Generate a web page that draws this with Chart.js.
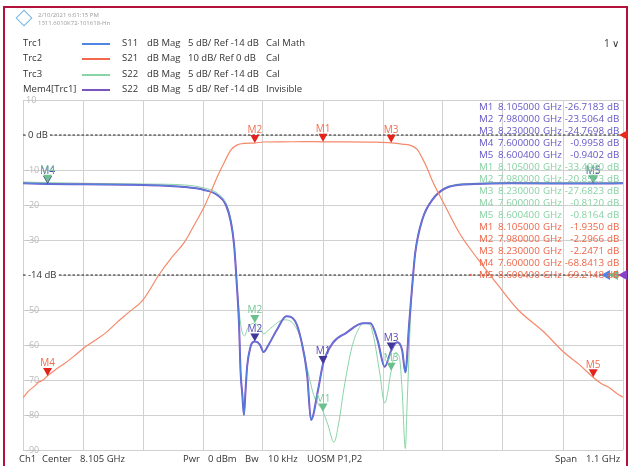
<!DOCTYPE html>
<html lang="en">
<head>
  <meta charset="UTF-8">
  <title>Filter sweep - Ch1</title>
  <script src="https://cdn.jsdelivr.net/npm/chart.js"></script>
  <style>
    body {
      margin: 0;
      width: 630px;
      height: 466px;
      overflow: hidden;
      position: relative;
      background: #fff;
      font-family: "Open Sans", Arial, sans-serif;
      color: #333;
    }
    .frame {
      position: absolute;
      left: 3px;
      top: 6px;
      width: 621px;
      height: 480px;
      border: 2px solid #b3123d;
      border-bottom: none;
    }
    #vna { position: absolute; left: 0; top: 0; }
    .abs { position: absolute; white-space: nowrap; line-height: 1; }
    .logo {
      position: absolute;
      left: 18px;
      top: 12px;
      width: 10px;
      height: 10px;
      border: 1.5px solid #72b4e2;
      transform: rotate(45deg);
    }
    .stamp { font-size: 6px; color: #9a9a9a; }
    .leg { font-size: 9.5px; color: #333; }
    .swatch { position: absolute; height: 2px; width: 28px; left: 82px; }
    .foot { font-size: 9.5px; color: #333; top: 454px; }
    .mk { font-size: 9.8px; }
  </style>
</head>
<body>
  <div class="frame"></div>
  <canvas id="vna" width="630" height="466"></canvas>

  <!-- header -->
  <div class="logo"></div>
  <div class="abs stamp" style="left:38px;top:12px">2/10/2021 6:01:15 PM</div>
  <div class="abs stamp" style="left:38px;top:20px">1311.6010K72-101618-Hn</div>
  <div class="abs leg" style="left:604px;top:38px;font-size:10px">1 &#8744;</div>

  <!-- trace list -->
  <div id="legend"></div>

  <!-- marker readout -->
  <div id="readout"></div>

  <!-- channel line -->
  <div class="abs foot" style="left:19px">Ch1</div>
  <div class="abs foot" style="left:42px">Center</div>
  <div class="abs foot" style="left:80px">8.105 GHz</div>
  <div class="abs foot" style="left:183px">Pwr</div>
  <div class="abs foot" style="left:208px">0 dBm</div>
  <div class="abs foot" style="left:245px">Bw</div>
  <div class="abs foot" style="left:268px">10 kHz</div>
  <div class="abs foot" style="left:307px">UOSM P1,P2</div>
  <div class="abs foot" style="left:555px">Span</div>
  <div class="abs foot" style="left:586px">1.1 GHz</div>

  <script>
    // sweep: 8.105 GHz center, 1.1 GHz span
    const freqMin = 7.555;
    const freqMax = 8.655;
    const freqStep = 0.11;

    // Trc2 (S21), 10 dB/div, ref 0 dB
    const trc2Freq = [7.555, 7.565, 7.575, 7.584, 7.592, 7.600, 7.615, 7.633, 7.650, 7.666, 7.686, 7.706, 7.727, 7.747, 7.775, 7.804, 7.827, 7.851, 7.869, 7.887, 7.900, 7.911, 7.925, 7.936, 7.947, 7.960, 7.980, 7.996, 8.030, 8.070, 8.105, 8.150, 8.200, 8.230, 8.250, 8.268, 8.278, 8.287, 8.296, 8.305, 8.328, 8.355, 8.390, 8.423, 8.463, 8.510, 8.546, 8.575, 8.600, 8.615, 8.630, 8.645, 8.655];
    const trc2Db = [-75.1, -73.2, -71.9, -70.6, -70.0, -68.8, -67.0, -65.1, -63.0, -60.9, -58.8, -56.6, -53.6, -50.9, -47.1, -40.0, -35.1, -30.6, -25.7, -20.6, -16.0, -12.0, -7.5, -4.3, -2.9, -2.4, -2.3, -2.0, -1.95, -1.9, -1.94, -1.95, -2.05, -2.25, -2.6, -3.1, -4.2, -6.6, -9.5, -12.9, -20.0, -28.0, -35.7, -42.3, -50.0, -56.3, -62.0, -65.6, -69.2, -71.0, -72.2, -74.0, -74.9];

    // Trc1 (S11), 5 dB/div, ref -14 dB  (Mem4 is a stored copy of it)
    const trc1Freq = [7.555, 7.600, 7.666, 7.776, 7.851, 7.887, 7.911, 7.927, 7.936, 7.942, 7.947, 7.951, 7.954, 7.957, 7.960, 7.963, 7.966, 7.972, 7.976, 7.980, 7.989, 7.996, 8.005, 8.020, 8.038, 8.054, 8.065, 8.076, 8.083, 8.096, 8.105, 8.123, 8.147, 8.178, 8.192, 8.205, 8.218, 8.230, 8.241, 8.250, 8.256, 8.263, 8.268, 8.274, 8.287, 8.305, 8.336, 8.383, 8.450, 8.600, 8.655];
    const trc1Db = [-0.9, -1.0, -1.05, -1.14, -1.43, -1.86, -2.57, -4.0, -6.4, -9.7, -15.4, -20.9, -28.0, -31.0, -34.0, -30.5, -27.0, -24.3, -23.6, -23.5, -23.9, -25.0, -24.0, -21.9, -19.9, -20.6, -23.3, -28.3, -34.7, -30.4, -26.7, -23.7, -22.3, -20.9, -20.9, -23.3, -27.1, -24.8, -23.6, -24.7, -27.9, -20.9, -16.1, -10.9, -6.1, -3.3, -1.4, -1.0, -0.9, -0.94, -0.9];

    // Trc3 (S22), 5 dB/div, ref -14 dB
    const trc3Freq = [7.555, 7.600, 7.776, 7.851, 7.887, 7.911, 7.927, 7.936, 7.942, 7.947, 7.952, 7.956, 7.961, 7.967, 7.980, 7.989, 7.996, 8.009, 8.033, 8.051, 8.065, 8.078, 8.089, 8.105, 8.114, 8.125, 8.134, 8.143, 8.158, 8.169, 8.180, 8.191, 8.198, 8.209, 8.218, 8.230, 8.237, 8.245, 8.250, 8.256, 8.259, 8.265, 8.268, 8.274, 8.287, 8.305, 8.336, 8.383, 8.450, 8.600, 8.655];
    const trc3Db = [-0.71, -0.81, -1.0, -1.14, -1.57, -2.3, -3.7, -6.0, -9.4, -15.1, -19.7, -21.9, -22.7, -21.6, -20.85, -21.6, -22.4, -21.6, -20.4, -21.0, -23.3, -28.0, -31.4, -33.5, -35.4, -37.9, -35.1, -30.4, -24.3, -21.9, -20.9, -21.1, -22.9, -28.0, -32.3, -27.7, -25.1, -25.7, -30.4, -38.8, -32.9, -20.9, -16.1, -10.9, -6.1, -3.3, -1.3, -0.9, -0.8, -0.82, -0.8];

    // markers M1..M5
    const markerFreq = [8.105, 7.98, 8.23, 7.6, 8.6004];
    const trc1Markers = [-26.7183, -23.5064, -24.7698, -0.9958, -0.9402];
    const trc3Markers = [-33.499, -20.8523, -27.6823, -0.812, -0.8164];
    const trc2Markers = [-1.935, -2.2966, -2.2471, -68.8413, -69.2148];

    // left scale labels (Trc2 grid), -40 is where the -14 dB ref of Trc1/Trc3 sits
    const trc2Ticks = [10, 0, -10, -20, -30, -40, -50, -60, -70, -80, -90];

    const C_RED = '#f5896a', C_BLUE = '#4f86e2', C_GREEN = '#88d4a6', C_PURPLE = '#7b55c4';

    // trace list at the top
    const legendRows = [
      ['Trc1', C_BLUE, 'S11', '5 dB/ Ref -14 dB', 'Cal Math'],
      ['Trc2', '#f26a4a', 'S21', '10 dB/ Ref 0 dB', 'Cal'],
      ['Trc3', C_GREEN, 'S22', '5 dB/ Ref -14 dB', 'Cal'],
      ['Mem4[Trc1]', C_PURPLE, 'S22', '5 dB/ Ref -14 dB', 'Invisible']
    ];
    const legend = document.getElementById('legend');
    legendRows.forEach((r, i) => {
      const top = 38 + i * 15.4;
      legend.insertAdjacentHTML('beforeend',
        `<div class="abs leg" style="left:23px;top:${top}px">${r[0]}</div>` +
        `<div class="swatch" style="top:${top + 5}px;background:${r[1]}"></div>` +
        `<div class="abs leg" style="left:122px;top:${top}px">${r[2]}</div>` +
        `<div class="abs leg" style="left:147px;top:${top}px">dB Mag</div>` +
        `<div class="abs leg" style="left:188px;top:${top}px">${r[3]}</div>` +
        `<div class="abs leg" style="left:266px;top:${top}px">${r[4]}</div>`);
    });

    // marker readout
    const readoutGroups = [
      { values: trc1Markers, color: '#6558c6' },
      { values: trc3Markers, color: '#88d2a4' },
      { values: trc2Markers, color: '#ef6547' }
    ];
    const readout = document.getElementById('readout');
    let row = 0;
    readoutGroups.forEach(g => {
      g.values.forEach((v, i) => {
        const top = 101.5 + row * 12.07;
        const st = `top:${top}px;color:${g.color}`;
        readout.insertAdjacentHTML('beforeend',
          `<div class="abs mk" style="left:479px;${st}">M${i + 1}</div>` +
          `<div class="abs mk" style="left:498px;${st}">${markerFreq[i].toFixed(6)}</div>` +
          `<div class="abs mk" style="left:543px;${st}">GHz</div>` +
          `<div class="abs mk" style="left:560px;width:44px;text-align:right;${st}">${v.toFixed(4)}</div>` +
          `<div class="abs mk" style="left:607px;${st}">dB</div>`);
        row++;
      });
    });
    readout.insertAdjacentHTML('beforeend',
      `<div class="abs mk" style="left:469px;top:${101.5 + 14 * 12.07}px;color:#ef6547">&bull;</div>`);

    function tri(ctx, pts, color) {
      ctx.fillStyle = color;
      ctx.beginPath();
      ctx.moveTo(pts[0], pts[1]);
      ctx.lineTo(pts[2], pts[3]);
      ctx.lineTo(pts[4], pts[5]);
      ctx.closePath();
      ctx.fill();
    }

    // dashed reference lines with their labels, and the ref arrows on the right
    const refLines = {
      id: 'refLines',
      beforeDatasetsDraw(chart) {
        const { ctx, chartArea, scales } = chart;
        const refs = [
          { y: scales.y.getPixelForValue(0), text: '0 dB' },
          { y: scales.y2.getPixelForValue(-14), text: '-14 dB' }
        ];
        ctx.save();
        refs.forEach(r => {
          ctx.strokeStyle = '#222';
          ctx.lineWidth = 1;
          ctx.setLineDash([2.5, 2]);
          ctx.beginPath();
          ctx.moveTo(chartArea.left, r.y);
          ctx.lineTo(chartArea.right, r.y);
          ctx.stroke();
          ctx.setLineDash([]);
          ctx.font = '9.5px "Open Sans"';
          const w = ctx.measureText(r.text).width;
          ctx.fillStyle = '#fff';
          ctx.fillRect(chartArea.left + 3, r.y - 5, w + 4, 10);
          ctx.fillStyle = '#333';
          ctx.textBaseline = 'middle';
          ctx.fillText(r.text, chartArea.left + 5, r.y);
        });
        const R = chartArea.right;
        tri(ctx, [R - 4, refs[0].y, R + 5, refs[0].y - 5, R + 5, refs[0].y + 5], '#e8281e');
        const y14 = refs[1].y;
        tri(ctx, [R - 22, y14, R - 13, y14 - 5, R - 13, y14 + 5], C_BLUE);
        tri(ctx, [R - 14, y14, R - 5, y14 - 5, R - 5, y14 + 5], '#6cc590');
        tri(ctx, [R - 5, y14, R + 4, y14 - 5, R + 4, y14 + 5], '#8a3fc8');
        ctx.restore();
      }
    };

    // marker triangles + names
    const markerSets = [
      { values: trc1Markers, axis: 'y2', fill: '#44379a', text: '#5747b4' },
      { values: trc3Markers, axis: 'y2', fill: '#6cc08e', text: '#74c796' },
      { values: trc2Markers, axis: 'y', fill: '#e4231c', text: '#ee6c4e' }
    ];
    const markerDraw = {
      id: 'markerDraw',
      afterDatasetsDraw(chart) {
        const { ctx, scales } = chart;
        ctx.save();
        ctx.font = '10px "Open Sans"';
        ctx.textAlign = 'center';
        ctx.textBaseline = 'bottom';
        markerSets.forEach(s => {
          markerFreq.forEach((f, i) => {
            const x = scales.x.getPixelForValue(f);
            const y = scales[s.axis].getPixelForValue(s.values[i]);
            tri(ctx, [x, y, x - 4.5, y - 8, x + 4.5, y - 8], s.fill);
            ctx.fillStyle = s.text;
            ctx.fillText('M' + (i + 1), x, y - 7.5);
          });
        });
        ctx.restore();
      }
    };

    const toXY = (fs, vs) => fs.map((f, i) => ({ x: f, y: vs[i] }));

    new Chart(document.getElementById('vna'), {
      type: 'line',
      data: {
        datasets: [
          { label: 'Trc3', data: toXY(trc3Freq, trc3Db), yAxisID: 'y2', borderColor: C_GREEN, borderWidth: 1, order: 4 },
          { label: 'Mem4[Trc1]', data: toXY(trc1Freq, trc1Db), yAxisID: 'y2', borderColor: C_PURPLE, borderWidth: 2, order: 3 },
          { label: 'Trc1', data: toXY(trc1Freq, trc1Db), yAxisID: 'y2', borderColor: C_BLUE, borderWidth: 1, order: 2 },
          { label: 'Trc2', data: toXY(trc2Freq, trc2Db), yAxisID: 'y', borderColor: C_RED, borderWidth: 1.2, order: 1 }
        ]
      },
      options: {
        responsive: false,
        animation: false,
        elements: {
          point: { radius: 0 },
          line: { cubicInterpolationMode: 'monotone' }
        },
        layout: { padding: { left: 17, top: 100, right: 7, bottom: 16 } },
        plugins: {
          legend: { display: false },
          tooltip: { enabled: false }
        },
        scales: {
          x: {
            type: 'linear',
            min: freqMin,
            max: freqMax,
            ticks: { display: false, stepSize: freqStep },
            grid: { color: '#d0d0d0', drawTicks: false },
            border: { display: false }
          },
          y: {
            min: trc2Ticks[trc2Ticks.length - 1],
            max: trc2Ticks[0],
            ticks: {
              stepSize: 10,
              mirror: true,
              padding: 3,
              color: '#b8b8b8',
              font: { size: 9, family: 'Open Sans' },
              callback: v => (v === 0 || v === -40) ? '' : String(v)
            },
            grid: { color: '#d0d0d0', drawTicks: false },
            border: { display: false }
          },
          y2: { display: false, min: -39, max: 11 }
        }
      },
      plugins: [refLines, markerDraw]
    });
  </script>
</body>
</html>
